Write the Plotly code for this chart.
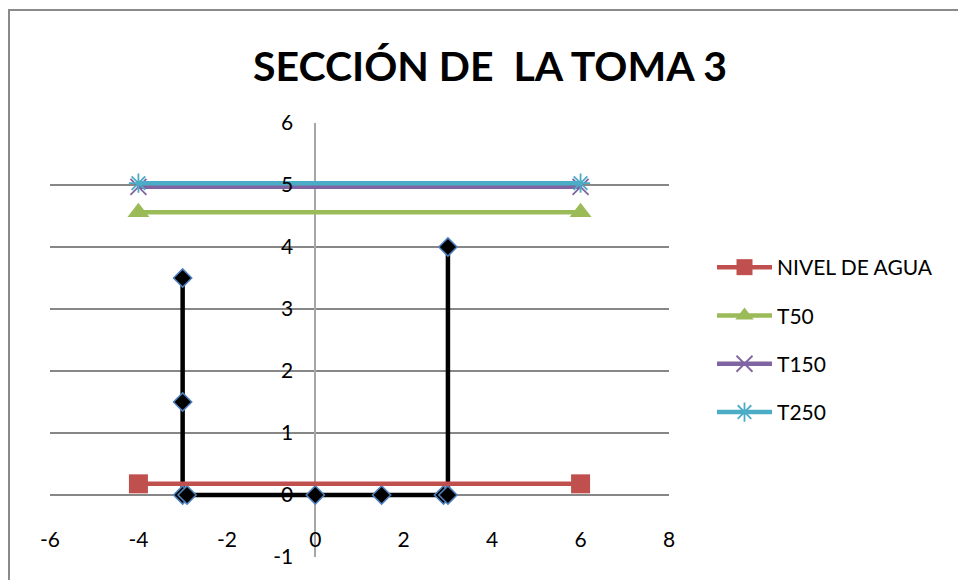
import plotly.graph_objects as go

# ---- data ----
sec_x = [-3, -3, -3, -2.9, 0, 1.5, 2.9, 3, 3]
sec_y = [3.5, 1.5, 0, 0, 0, 0, 0, 0, 4]

series_x = [-4, 6]
nivel_y = [0.18, 0.18]
t50_y = [4.56, 4.56]
t150_y = [4.97, 4.97]
t250_y = [5.03, 5.03]

x_ticks = [-6, -4, -2, 0, 2, 4, 6, 8]
x_ticklabels = ["-6", "-4", "-2", "0", "2", "4", "6", "8"]
y_ticks = [-1, 0, 1, 2, 3, 4, 5, 6]
y_ticklabels = ["-1", "0", "1", "2", "3", "4", "5", "6"]

title_text = "SECCIÓN DE  LA TOMA 3"

W, H = 958, 580
L, R, T, B = 50, 289, 123, 23
PW, PH = W - L - R, H - T - B

FONT = "Lato, Noto Sans, sans-serif"

def px2paper_x(px):
    return (px - L) / PW

def py2paper_y(py):
    return (H - B - py) / PH

fig = go.Figure()

fig.add_trace(go.Scatter(
    x=sec_x, y=sec_y, mode="lines+markers", showlegend=False,
    line=dict(color="black", width=4.5),
    marker=dict(symbol="diamond", size=14, color="black",
                line=dict(color="#4f81bd", width=1.5)),
))
fig.add_trace(go.Scatter(
    x=series_x, y=nivel_y, mode="lines+markers", name="NIVEL DE AGUA",
    legendgroup="a",
    line=dict(color="#c0504d", width=4.5),
    marker=dict(symbol="square", size=19, color="#c0504d"),
))
fig.add_trace(go.Scatter(
    x=series_x, y=t50_y, mode="lines+markers", name="T50",
    legendgroup="b",
    line=dict(color="#9bbb59", width=4.5),
    marker=dict(symbol="triangle-up", size=19, color="#9bbb59"),
))
fig.add_trace(go.Scatter(
    x=series_x, y=t150_y, mode="lines+markers", name="T150",
    legendgroup="c",
    line=dict(color="#8064a2", width=4.5),
    marker=dict(symbol="x-thin-open", size=16, color="#8064a2",
                line=dict(color="#8064a2", width=1.8)),
))
fig.add_trace(go.Scatter(
    x=series_x, y=t250_y, mode="lines+markers", name="T250",
    legendgroup="d",
    line=dict(color="#4bacc6", width=4.5),
    marker=dict(symbol="asterisk-open", size=16, color="#4bacc6",
                line=dict(color="#4bacc6", width=1.8)),
))

fig.update_layout(
    width=W, height=H,
    margin=dict(l=L, r=R, t=T, b=B, pad=0),
    paper_bgcolor="white", plot_bgcolor="white",
    font=dict(family=FONT, size=21, color="black"),
    title=dict(text="<b>%s</b>" % title_text, xref="container", yref="container",
               x=490 / W, y=1 - 67 / H, xanchor="center", yanchor="middle",
               font=dict(family=FONT, size=41, color="black")),
    xaxis=dict(range=[-6, 8], tickvals=x_ticks, ticktext=x_ticklabels, showgrid=False,
               zeroline=True, zerolinecolor="#a6a6a6", zerolinewidth=1.5,
               showline=False, ticks="", anchor="free",
               position=(0 - (-1)) / 7, ticklabelstandoff=30,
               tickfont=dict(family=FONT, size=21)),
    yaxis=dict(range=[-1, 6], tickvals=y_ticks, ticktext=y_ticklabels, showgrid=True,
               gridcolor="#878787", gridwidth=1.5, zeroline=False,
               showline=False, ticks="", anchor="free",
               position=(0 - (-6)) / 14, ticklabelstandoff=22,
               tickfont=dict(family=FONT, size=21)),
    legend=dict(x=px2paper_x(712), y=py2paper_y(247), xanchor="left", yanchor="top",
                font=dict(family=FONT, size=21), itemwidth=55,
                tracegroupgap=18, bgcolor="rgba(0,0,0,0)"),
    shapes=[dict(type="rect", xref="paper", yref="paper",
                 x0=px2paper_x(9), x1=px2paper_x(990),
                 y0=py2paper_y(620), y1=py2paper_y(10),
                 line=dict(color="#8a8a8a", width=2), fillcolor="rgba(0,0,0,0)",
                 layer="below")],
)

fig.write_html("out.html")
